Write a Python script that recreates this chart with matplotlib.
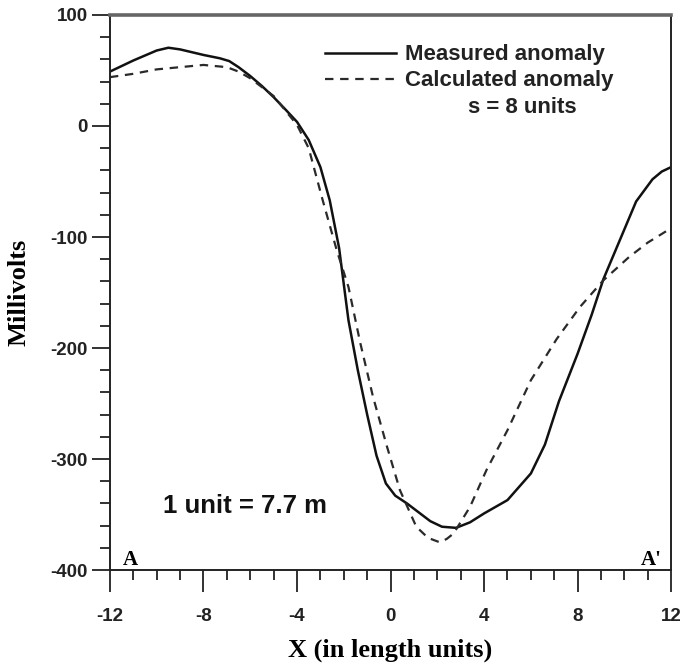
import matplotlib
matplotlib.use("Agg")
import matplotlib.pyplot as plt
from matplotlib.ticker import MultipleLocator

plt.rcParams["axes.unicode_minus"] = False

# measured anomaly (solid)
meas_x = [-12, -11, -10, -9.5, -9, -8, -7.3, -6.9, -6.5, -6, -5.5, -5, -4.5, -4, -3.5,
          -3, -2.6, -2.2, -1.8, -1.4, -1, -0.6, -0.2, 0.2, 0.7, 1.2, 1.7, 2.2, 2.8,
          3.4, 4, 5, 6, 6.6, 7.2, 8, 8.6, 9.1, 9.8, 10.5, 11.2, 11.6, 12]
meas_y = [49, 59, 68, 70.5, 69, 64, 61, 58.5, 53, 45, 36, 26, 15, 3.7, -12.6,
          -37, -67, -110, -175, -220, -260, -297, -322, -333, -340, -348, -356, -361, -362,
          -357, -349, -337, -313, -287, -248, -205, -170, -138, -103, -68, -48, -41, -37]

# calculated anomaly (dashed)
calc_x = [-12, -11, -10, -9, -8, -7, -6.5, -6, -5, -4, -3.5, -2.9, -2.3, -1.8, -1.3,
          -0.75, -0.15, 0.4, 1.1, 1.6, 2.1, 2.4, 2.7, 3.4, 4.1, 5, 6, 7.1, 8.1, 9.1,
          10.2, 11, 12]
calc_y = [44, 47, 51, 53, 55, 53, 49, 43, 27, 1, -20, -67, -112, -145, -195,
          -244, -289, -328, -361, -371, -375, -372, -367, -343, -310, -274, -229, -192, -163, -139,
          -118, -105, -92]

x_ticks = [-12, -8, -4, 0, 4, 8, 12]
y_ticks = [-400, -300, -200, -100, 0, 100]

fig = plt.figure(figsize=(6.87, 6.66), dpi=100)
ax = fig.add_axes([0.160, 0.1441, 0.817, 0.8334])

ax.plot(meas_x, meas_y, color="#111111", lw=1.8, label="Measured anomaly")
ax.plot(calc_x, calc_y, color="#2a2a2a", lw=1.6, linestyle=(0, (3.8, 3.0)),
        label="Calculated anomaly")

ax.set_xlim(-12, 12)
ax.set_ylim(-400, 100)
ax.set_xticks(x_ticks)
ax.set_yticks(y_ticks)
ax.xaxis.set_minor_locator(MultipleLocator(1))
ax.yaxis.set_minor_locator(MultipleLocator(20))
ax.tick_params(which="major", direction="out", length=16, width=1.3, color="#222222")
ax.tick_params(which="minor", direction="out", length=7, width=1.3, color="#222222")
ax.tick_params(axis="x", which="major", pad=11)
ax.tick_params(axis="y", which="major", pad=3)
ax.tick_params(axis="y", which="major", length=13)

for lab in ax.get_xticklabels() + ax.get_yticklabels():
    lab.set_fontsize(13.5)
    lab.set_fontweight("bold")
    lab.set_family("Liberation Sans")
    lab.set_color("#222222")

for side in ["left", "bottom", "right"]:
    ax.spines[side].set_linewidth(1.4)
    ax.spines[side].set_color("#222222")
ax.spines["top"].set_linewidth(2.6)
ax.spines["top"].set_color("#666666")

ax.set_xlabel("X (in length units)", fontsize=19, fontweight="bold",
              family="Liberation Serif", labelpad=10)
ax.set_ylabel("Millivolts", fontsize=19, fontweight="bold",
              family="Liberation Serif", labelpad=14)

leg = ax.legend(loc="upper left", bbox_to_anchor=(0.383, 0.947), frameon=False,
                handlelength=3.2, handletextpad=0.4, labelspacing=0.22, borderpad=0,
                borderaxespad=0,
                prop={"family": "Liberation Sans", "weight": "bold", "size": 16})
for t in leg.get_texts():
    t.set_color("#222222")

ax.text(5.63, 17, "s = 8 units", ha="center", va="center", fontsize=16,
        fontweight="bold", family="Liberation Sans", color="#222222")
ax.text(-9.73, -349, "1 unit = 7.7 m", ha="left", va="baseline", fontsize=18.5,
        fontweight="bold", family="Liberation Sans", color="#111111")
ax.text(-11.45, -395.5, "A", ha="left", va="baseline", fontsize=15,
        fontweight="bold", family="Liberation Serif")
ax.text(11.6, -395.5, "A'", ha="right", va="baseline", fontsize=15,
        fontweight="bold", family="Liberation Serif")

fig.savefig("out.png", dpi=100)
